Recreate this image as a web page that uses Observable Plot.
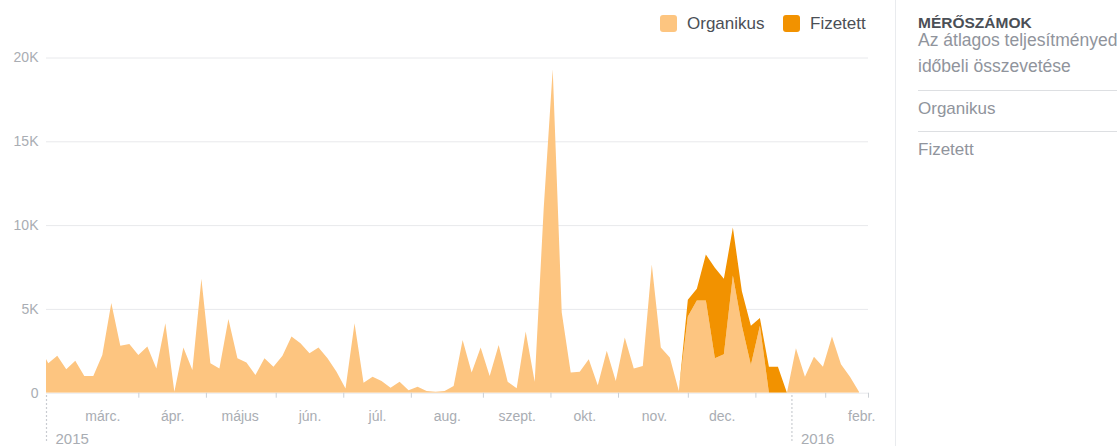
<!DOCTYPE html>
<html><head><meta charset="utf-8">
<script src="https://cdn.jsdelivr.net/npm/d3@7"></script>
<script src="https://cdn.jsdelivr.net/npm/@observablehq/plot@0.6"></script>
<style>
body{margin:0;background:#fff;font-family:"Liberation Sans",Arial,sans-serif;}
#wrap{position:relative;width:1119px;height:446px;overflow:hidden;background:#fff;}
#chart{position:absolute;left:0;top:0;}
.lg{position:absolute;top:15px;height:17px;line-height:17px;font-size:17px;color:#4b4f56;white-space:nowrap;}
.sw{position:absolute;top:0;width:17px;height:17px;border-radius:3px;}
#divider{position:absolute;left:895px;top:0;width:1px;height:446px;background:#e9ebee;}
.pt{position:absolute;left:918px;line-height:1;white-space:nowrap;}
.hl{position:absolute;left:918px;width:199px;height:1px;background:#dddfe2;}
</style></head><body>
<div id="wrap">
  <div id="chart"></div>
  <div id="legend"></div>
  <div id="divider"></div>
  <div id="panel"></div>
</div>
<script>
const series = ["Organikus", "Fizetett"];
const colors = ["#fdc580", "#f29200"];

const dates = [
"2015-02-01","2015-02-05","2015-02-09","2015-02-13","2015-02-17","2015-02-21","2015-02-25","2015-03-01",
"2015-03-05","2015-03-09","2015-03-13","2015-03-17","2015-03-21","2015-03-25","2015-03-29","2015-04-02",
"2015-04-06","2015-04-10","2015-04-14","2015-04-18","2015-04-22","2015-04-26","2015-04-30","2015-05-04",
"2015-05-08","2015-05-12","2015-05-16","2015-05-20","2015-05-24","2015-05-28","2015-06-01","2015-06-05",
"2015-06-09","2015-06-13","2015-06-17","2015-06-21","2015-06-25","2015-06-29","2015-07-03","2015-07-07",
"2015-07-11","2015-07-15","2015-07-19","2015-07-23","2015-07-27","2015-07-31","2015-08-04","2015-08-08",
"2015-08-12","2015-08-16","2015-08-20","2015-08-24","2015-08-28","2015-09-01","2015-09-05","2015-09-09",
"2015-09-13","2015-09-17","2015-09-21","2015-09-25","2015-09-29","2015-10-03","2015-10-07","2015-10-11",
"2015-10-15","2015-10-19","2015-10-23","2015-10-27","2015-10-31","2015-11-04","2015-11-08","2015-11-12",
"2015-11-16","2015-11-20","2015-11-24","2015-11-28","2015-12-02","2015-12-06","2015-12-10","2015-12-14",
"2015-12-18","2015-12-22","2015-12-26","2015-12-30","2016-01-03","2016-01-07","2016-01-11","2016-01-15",
"2016-01-19","2016-01-23","2016-01-27","2016-01-31"];

const organikus = [
2800,1750,2200,1400,1900,1000,1000,2250,5350,2800,2900,2250,2750,1450,4150,50,
2700,1350,6800,1750,1450,4400,2050,1800,1050,2050,1550,2200,3350,2950,2350,2700,
2050,1250,250,4150,600,950,700,300,650,150,350,100,50,100,400,3150,
1200,2700,1000,2850,650,260,3650,650,11000,19300,4800,1200,1250,2000,450,2500,
700,3300,1450,1600,7650,2700,2100,100,4550,5500,5500,2050,2300,7000,4000,1650,
4000,0,0,0,2650,950,2150,1550,3350,1700,950,50];

const fizetett = [
0,0,0,0,0,0,0,0,0,0,0,0,0,0,0,0,
0,0,0,0,0,0,0,0,0,0,0,0,0,0,0,0,
0,0,0,0,0,0,0,0,0,0,0,0,0,0,0,0,
0,0,0,0,0,0,0,0,0,0,0,0,0,0,0,0,
0,0,0,0,0,0,0,0,1000,700,2750,5400,4500,2850,2050,2350,
450,1550,1550,0,0,0,0,0,0,0,0,0];

const yTicks = [0, 5000, 10000, 15000, 20000];
const yTickLabels = ["0", "5K", "10K", "15K", "20K"];
const monthDates = ["2015-03-01","2015-04-01","2015-05-01","2015-06-01","2015-07-01","2015-08-01",
  "2015-09-01","2015-10-01","2015-11-01","2015-12-01","2016-02-01"];
const monthLabels = ["márc.","ápr.","május","jún.","júl.","aug.","szept.","okt.","nov.","dec.","febr."];
const tickDates = ["2015-03-17","2015-04-16","2015-05-17","2015-06-16","2015-07-16","2015-08-17",
  "2015-09-16","2015-10-16","2015-11-16","2015-12-16","2016-01-16","2016-02-04"];
const yearDates = ["2015-02-04","2016-01-01"];
const yearLabels = ["2015","2016"];
const xDomain = ["2015-02-04","2016-02-04"];

const panelTitle = "MÉRŐSZÁMOK";
const panelSubtitle = ["Az átlagos teljesítményed", "időbeli összevetése"];

const parse = s => new Date(s + "T00:00:00Z");
const rows = [];
dates.forEach((d, i) => rows.push({date: parse(d), value: organikus[i], series: series[0]}));
dates.forEach((d, i) => rows.push({date: parse(d), value: fizetett[i], series: series[1]}));

const labelFor = (list, labels) => d => {
  const k = list.findIndex(s => +parse(s) === +d);
  return k < 0 ? "" : labels[k];
};

const chart = Plot.plot({
  width: 895, height: 446,
  marginLeft: 46, marginRight: 27, marginTop: 57.5, marginBottom: 53.3,
  style: {fontFamily: "'Liberation Sans', Arial, sans-serif", fontSize: "14px", background: "transparent", overflow: "visible"},
  x: {type: "utc", domain: xDomain.map(parse), label: null},
  y: {domain: [0, 20000], label: null},
  color: {domain: series, range: colors},
  marks: [
    Plot.ruleY(yTicks, {stroke: "#e8e9ec"}),
    Plot.areaY(rows, {x: "date", y: "value", fill: "series", z: "series", order: series, curve: "linear", clip: true}),
    Plot.axisY({ticks: yTicks, tickFormat: d => yTickLabels[yTicks.indexOf(d)], tickSize: 0, tickPadding: 8, fill: "#a9adb3", label: null}),
    Plot.axisX({ticks: tickDates.map(parse), tickSize: 5, tickFormat: () => "", stroke: "#ccd0d5", label: null}),
    Plot.axisX({ticks: monthDates.map(parse), tickSize: 0, tickPadding: 18, tickFormat: labelFor(monthDates, monthLabels), fill: "#a9adb3", label: null}),
    Plot.ruleX(yearDates.map(parse), {x: d => d, y1: -150, y2: -3000, stroke: "#b8bcc2", strokeWidth: 1.2, strokeDasharray: "1.5,2.5"}),
    Plot.axisX({ticks: yearDates.map(parse), tickSize: 0, tickPadding: 40.5, textAnchor: "start", dx: 9, fontSize: 15,
      tickFormat: labelFor(yearDates, yearLabels), fill: "#a9adb3", label: null})
  ]
});
document.getElementById("chart").appendChild(chart);

// legend
const legend = document.getElementById("legend");
const legendX = [660, 783];
series.forEach((s, i) => {
  const el = document.createElement("div");
  el.className = "lg";
  el.style.left = legendX[i] + "px";
  el.style.paddingLeft = "27px";
  el.innerHTML = `<span class="sw" style="left:0;background:${colors[i]}"></span>${s}`;
  legend.appendChild(el);
});

// right panel
const panel = document.getElementById("panel");
function addText(txt, top, size, color, weight) {
  const el = document.createElement("div");
  el.className = "pt";
  el.style.top = top + "px";
  el.style.fontSize = size + "px";
  el.style.color = color;
  if (weight) el.style.fontWeight = weight;
  el.textContent = txt;
  panel.appendChild(el);
}
function addLine(top) {
  const el = document.createElement("div");
  el.className = "hl";
  el.style.top = top + "px";
  panel.appendChild(el);
}
addText(panelTitle, 15, 15.5, "#4b4f56", "bold");
addText(panelSubtitle[0], 32, 17.5, "#90949c");
addText(panelSubtitle[1], 58, 17.5, "#90949c");
addLine(90);
addText(series[0], 100, 17, "#90949c");
addLine(131);
addText(series[1], 141, 17, "#90949c");
</script>
</body></html>
